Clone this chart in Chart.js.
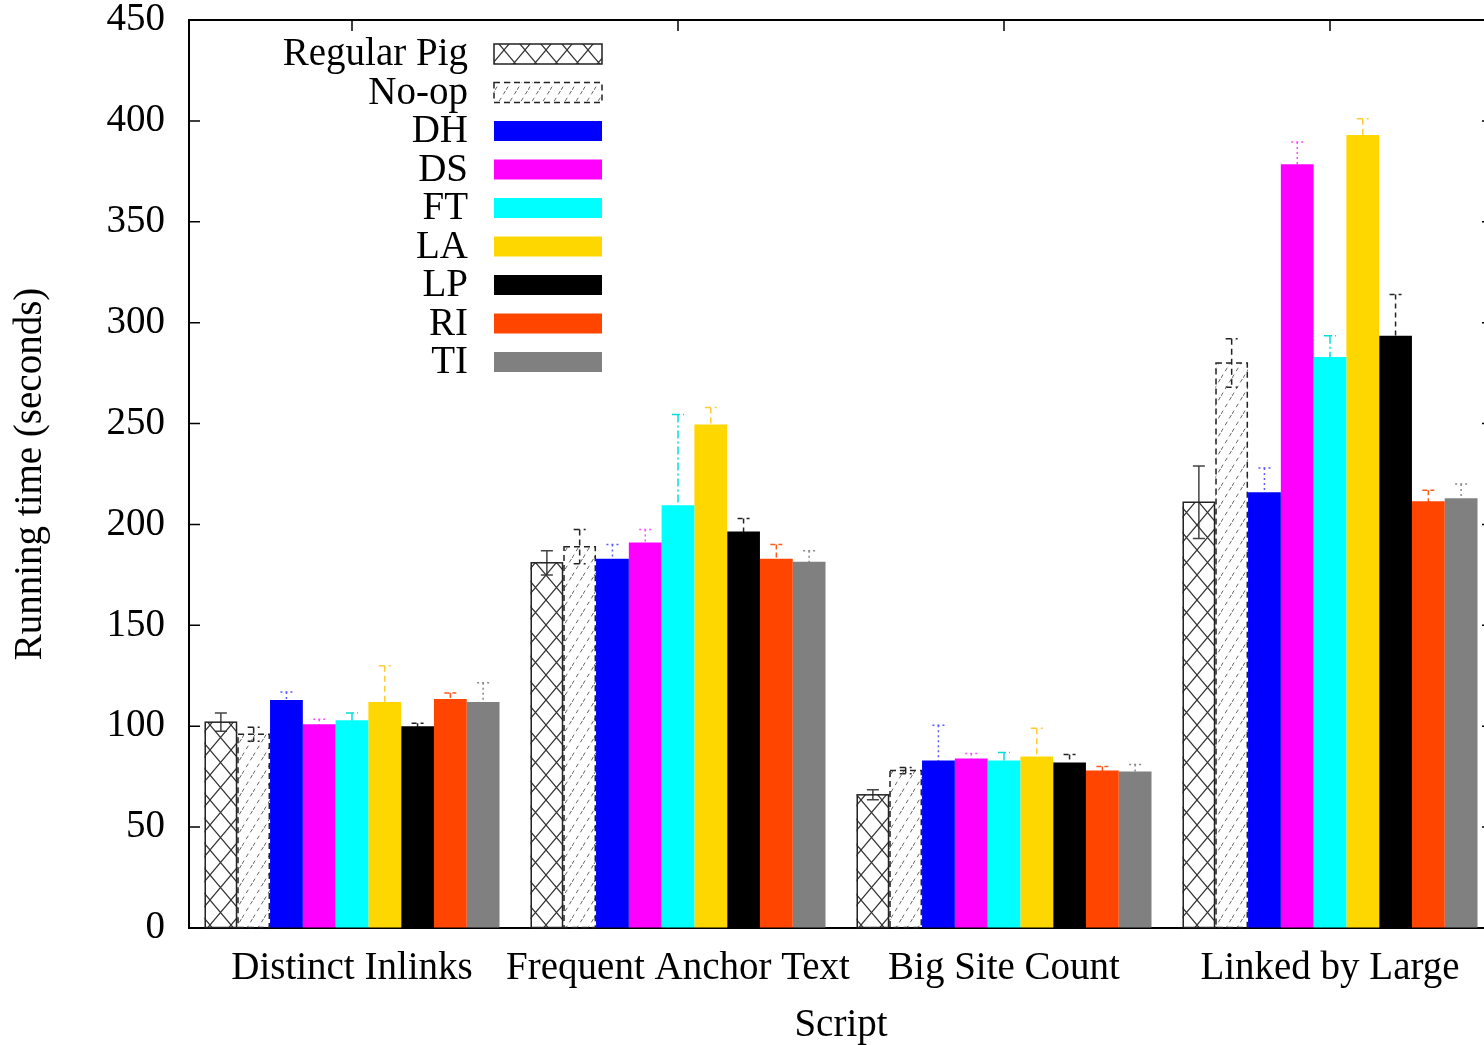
<!DOCTYPE html>
<html>
<head>
<meta charset="utf-8">
<title>Running time per script</title>
<script src="https://cdn.jsdelivr.net/npm/chart.js@4"></script>
<style>
    html, body { margin: 0; padding: 0; background: #fff; overflow: hidden; }
    #wrap { width: 1484px; height: 1045px; overflow: hidden; position: relative; }
    canvas { display: block; }
</style>
</head>
<body>
<div id="wrap"><canvas id="chart" width="1500" height="1045"></canvas></div>
<script>
// Données
const categories = ['Distinct Inlinks', 'Frequent Anchor Text', 'Big Site Count', 'Linked by Large'];
const seriesNames = ['Regular Pig', 'No-op', 'DH', 'DS', 'FT', 'LA', 'LP', 'RI', 'TI'];

const regularPig = [102, 181, 66, 211];
const noop       = [96, 189, 78, 280];
const dh         = [113, 183, 83, 216];
const ds         = [101, 191, 84, 378.5];
const ft         = [103, 209.5, 83, 283];
const la         = [112, 249.5, 85, 393];
const lp         = [100, 196.5, 82, 293.5];
const ri         = [113.5, 183, 78, 211.5];
const ti         = [112, 181.5, 77.5, 213];

// Demi-largeur des barres d'erreur
const regularPigErr = [4.5, 6, 2.5, 18];
const noopErr       = [3.5, 8.5, 1.5, 12];
const dhErr         = [4, 7, 17.5, 12];
const dsErr         = [2.5, 6.5, 2.5, 11];
const ftErr         = [3.5, 45, 4, 10.5];
const laErr         = [18, 8.5, 14, 8];
const lpErr         = [1.5, 6.5, 4, 20.5];
const riErr         = [3, 7, 2, 5.5];
const tiErr         = [9.5, 5.5, 3.5, 7];

const yTicks = [0, 50, 100, 150, 200, 250, 300, 350, 400, 450];

const FONT = '"Liberation Serif", "DejaVu Serif", serif';
const FONT_SIZE = 39;

// Motifs pour les deux premières séries
function crossHatch() {
    const c = document.createElement('canvas');
    c.width = 21; c.height = 25;
    const g = c.getContext('2d');
    g.strokeStyle = '#333';
    g.lineWidth = 1.2;
    g.beginPath();
    g.moveTo(0, 0); g.lineTo(21, 25);
    g.moveTo(21, 0); g.lineTo(0, 25);
    g.stroke();
    return g.createPattern(c, 'repeat');
}

function dashedDiagonal() {
    const c = document.createElement('canvas');
    c.width = 11; c.height = 18;
    const g = c.getContext('2d');
    g.strokeStyle = '#666';
    g.lineWidth = 1;
    g.setLineDash([4, 4]);
    g.beginPath();
    g.moveTo(0, 18); g.lineTo(11, 0);
    g.stroke();
    return g.createPattern(c, 'repeat');
}

const values = [regularPig, noop, dh, ds, ft, la, lp, ri, ti];
const errors = [regularPigErr, noopErr, dhErr, dsErr, ftErr, laErr, lpErr, riErr, tiErr];
const fills = [crossHatch(), dashedDiagonal(), '#0000ff', '#ff00ff', '#00ffff', '#ffd700', '#000000', '#ff4500', '#808080'];
const errColors = ['#444', '#222', '#5a5aff', '#ff4dff', '#00dede', '#ffcc33', '#222', '#ff5a1a', '#888'];
const errDash = [[], [6, 4], [2, 3], [2, 3], [8, 3, 2, 3], [6, 4], [5, 4], [5, 3], [2, 3]];

// Cadre, graduations et barres d'erreur façon gnuplot
const framePlugin = {
    id: 'frame',
    beforeDatasetsDraw(chart) {
        const { ctx, scales } = chart;
        ctx.save();
        // barres d'erreur (sous les barres pleines)
        chart.data.datasets.forEach((d, i) => {
            const meta = chart.getDatasetMeta(i);
            meta.data.forEach((bar, j) => {
                const v = d.data[j], e = errors[i][j];
                const yHi = scales.y.getPixelForValue(v + e);
                const yLo = scales.y.getPixelForValue(v - e);
                ctx.strokeStyle = errColors[i];
                ctx.lineWidth = 1.5;
                ctx.setLineDash(errDash[i]);
                ctx.beginPath();
                ctx.moveTo(bar.x, yHi); ctx.lineTo(bar.x, yLo);
                ctx.moveTo(bar.x - 6, yHi); ctx.lineTo(bar.x + 6, yHi);
                ctx.moveTo(bar.x - 6, yLo); ctx.lineTo(bar.x + 6, yLo);
                ctx.stroke();
            });
        });
        ctx.restore();
    },
    afterDatasetsDraw(chart) {
        const { ctx, chartArea: a, scales } = chart;
        ctx.save();
        // contours des barres à motif
        [0, 1].forEach(i => {
            const meta = chart.getDatasetMeta(i);
            ctx.strokeStyle = '#222';
            ctx.lineWidth = 1.5;
            ctx.setLineDash(i === 1 ? [6, 4] : []);
            meta.data.forEach(bar => {
                const w = bar.width;
                ctx.strokeRect(bar.x - w / 2 + 0.75, bar.y, w - 1.5, bar.base - bar.y);
            });
        });
        ctx.setLineDash([]);
        ctx.strokeStyle = '#000';
        ctx.lineWidth = 2;
        ctx.beginPath();
        ctx.moveTo(a.left, a.top); ctx.lineTo(a.right, a.top); ctx.lineTo(a.right, a.bottom);
        ctx.stroke();
        // graduations vers l'intérieur
        ctx.lineWidth = 1.5;
        ctx.beginPath();
        yTicks.forEach(t => {
            const y = scales.y.getPixelForValue(t);
            ctx.moveTo(a.left, y); ctx.lineTo(a.left + 11, y);
            ctx.moveTo(a.right, y); ctx.lineTo(a.right - 11, y);
        });
        categories.forEach((c, k) => {
            const x = scales.x.getPixelForValue(k);
            ctx.moveTo(x, a.top); ctx.lineTo(x, a.top + 11);
        });
        ctx.stroke();
        ctx.restore();
    }
};

// Légende dans le cadre, texte à gauche de l'échantillon
const legendPlugin = {
    id: 'gpLegend',
    afterDatasetsDraw(chart) {
        const { ctx, chartArea: a } = chart;
        const textRight = a.left + 279;
        const boxLeft = a.left + 305;
        const boxW = 108, boxH = 20;
        ctx.save();
        ctx.font = FONT_SIZE + 'px ' + FONT;
        ctx.textAlign = 'right';
        ctx.textBaseline = 'middle';
        chart.data.datasets.forEach((d, i) => {
            const y = a.top + 34 + i * 38.5;
            ctx.fillStyle = '#000';
            ctx.fillText(d.label, textRight, y + 1);
            ctx.fillStyle = '#fff';
            ctx.fillRect(boxLeft, y - boxH / 2, boxW, boxH);
            ctx.fillStyle = d.backgroundColor;
            ctx.fillRect(boxLeft, y - boxH / 2, boxW, boxH);
            if (i < 2) {
                ctx.strokeStyle = '#222';
                ctx.lineWidth = 1.5;
                ctx.setLineDash(i === 1 ? [6, 4] : []);
                ctx.strokeRect(boxLeft, y - boxH / 2, boxW, boxH);
                ctx.setLineDash([]);
            }
        });
        ctx.restore();
    }
};

new Chart(document.getElementById('chart').getContext('2d'), {
    type: 'bar',
    data: {
        labels: categories,
        datasets: seriesNames.map((name, i) => ({
            label: name,
            data: values[i],
            backgroundColor: fills[i],
            borderWidth: 0,
            barPercentage: 1,
            categoryPercentage: 0.905
        }))
    },
    options: {
        responsive: false,
        animation: false,
        layout: { padding: { top: 20, right: 7, left: 0, bottom: 0 } },
        plugins: {
            legend: { display: false },
            tooltip: { enabled: false }
        },
        scales: {
            x: {
                grid: { display: false, drawTicks: false },
                border: { display: true, color: '#000', width: 2 },
                ticks: {
                    font: { family: FONT, size: FONT_SIZE, lineHeight: 1 },
                    color: '#000',
                    padding: 21,
                    maxRotation: 0,
                    autoSkip: false
                },
                title: {
                    display: true,
                    text: 'Script',
                    font: { family: FONT, size: FONT_SIZE, lineHeight: 1 },
                    color: '#000',
                    padding: { top: 0, bottom: 0 }
                },
                afterFit: s => { s.height = 117; }
            },
            y: {
                min: 0,
                max: 450,
                afterBuildTicks: s => { s.ticks = yTicks.map(v => ({ value: v })); },
                // tickLength invisible pour écarter les libellés sans gonfler le padding haut
                grid: { display: true, drawOnChartArea: false, drawTicks: true, tickLength: 24, color: 'rgba(0,0,0,0)' },
                border: { display: true, color: '#000', width: 2 },
                ticks: {
                    font: { family: FONT, size: FONT_SIZE, lineHeight: 1 },
                    color: '#000',
                    padding: 0
                },
                title: {
                    display: true,
                    text: 'Running time (seconds)',
                    font: { family: FONT, size: FONT_SIZE, lineHeight: 1.2 },
                    color: '#000',
                    padding: { top: 7, bottom: 0 }
                },
                afterFit: s => { s.width = 189; }
            }
        }
    },
    plugins: [framePlugin, legendPlugin]
});
</script>
</body>
</html>
